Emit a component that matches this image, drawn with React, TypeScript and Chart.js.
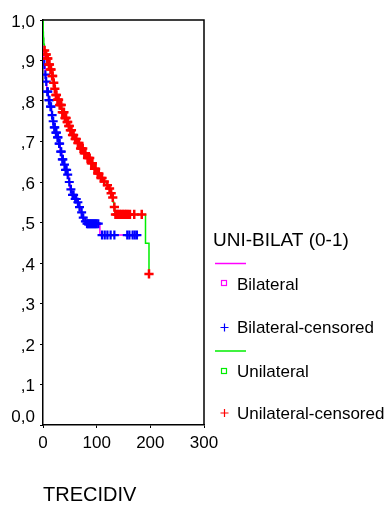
import React, { useEffect, useRef } from 'react';
import { Chart, registerables } from 'chart.js';
Chart.register(...registerables);

// ---- Data ----
const uniTimes = [0, 0.3, 0.7, 1.5, 2.5, 4, 7, 10, 13, 16, 19, 21, 23, 26, 30, 35, 40, 44, 47, 50, 54, 58, 63, 69, 75, 81, 88, 94, 100, 106, 112, 118, 122, 126, 129, 131, 132, 134, 191, 197.5];
const uniSurv = [1.0, 0.97, 0.955, 0.94, 0.925, 0.915, 0.905, 0.89, 0.878, 0.862, 0.845, 0.83, 0.815, 0.803, 0.79, 0.772, 0.758, 0.748, 0.738, 0.728, 0.716, 0.706, 0.696, 0.683, 0.671, 0.659, 0.646, 0.633, 0.621, 0.61, 0.601, 0.592, 0.584, 0.572, 0.562, 0.55, 0.538, 0.52, 0.449, 0.373];

const uniCensTimes = [3, 5, 6, 8, 9, 11, 12, 14, 15, 17, 18, 20, 22, 24, 25, 27, 28, 29, 31, 33, 34, 36, 38, 39, 41, 42, 43, 45, 46, 48, 49, 51, 53, 55, 57, 60, 62, 65, 67, 70, 72, 74, 77, 79, 83, 85, 87, 90, 92, 96, 98, 102, 104, 108, 110, 114, 120, 124, 127, 130, 133, 135, 138, 140, 143, 146, 149, 152, 155, 158, 162, 170, 184, 197.5];
const uniCensSurv = [0.925, 0.915, 0.915, 0.905, 0.905, 0.89, 0.89, 0.878, 0.878, 0.862, 0.862, 0.845, 0.83, 0.815, 0.815, 0.803, 0.803, 0.803, 0.79, 0.79, 0.79, 0.772, 0.772, 0.772, 0.758, 0.758, 0.758, 0.748, 0.748, 0.738, 0.738, 0.728, 0.728, 0.716, 0.716, 0.706, 0.706, 0.696, 0.696, 0.683, 0.683, 0.683, 0.671, 0.671, 0.659, 0.659, 0.659, 0.646, 0.646, 0.633, 0.633, 0.621, 0.621, 0.61, 0.61, 0.601, 0.592, 0.584, 0.572, 0.562, 0.538, 0.52, 0.52, 0.52, 0.52, 0.52, 0.52, 0.52, 0.52, 0.52, 0.52, 0.52, 0.52, 0.373];

const biTimes = [0, 0.3, 0.8, 1.3, 2, 4, 5.5, 7, 10, 13, 16, 18, 20, 23, 26, 29, 32, 35, 38, 41, 45, 48, 50, 54, 58, 63, 67, 70, 73, 77, 81, 106, 177];
const biSurv = [1.0, 0.96, 0.93, 0.905, 0.89, 0.865, 0.848, 0.823, 0.802, 0.786, 0.765, 0.75, 0.735, 0.722, 0.71, 0.695, 0.675, 0.656, 0.643, 0.63, 0.618, 0.6, 0.582, 0.568, 0.558, 0.55, 0.538, 0.525, 0.512, 0.503, 0.497, 0.469, 0.469];

const biCensTimes = [2.5, 4.5, 6, 8, 9, 11, 12, 14, 15, 17, 19, 21, 22, 24, 25, 27, 28, 30, 31, 33, 34, 36, 37, 40, 42, 44, 46, 49, 52, 55, 57, 60, 62, 65, 68, 72, 75, 79, 82, 84, 86, 88, 90, 92, 94, 96, 98, 100, 103, 110, 115, 120, 126, 133, 157, 161, 167, 171, 175];
const biCensSurv = [0.89, 0.865, 0.848, 0.823, 0.823, 0.802, 0.802, 0.786, 0.786, 0.765, 0.75, 0.735, 0.735, 0.722, 0.722, 0.71, 0.71, 0.695, 0.695, 0.675, 0.675, 0.656, 0.656, 0.643, 0.63, 0.63, 0.618, 0.6, 0.582, 0.568, 0.568, 0.558, 0.558, 0.55, 0.538, 0.525, 0.512, 0.503, 0.497, 0.497, 0.497, 0.497, 0.497, 0.497, 0.497, 0.497, 0.497, 0.497, 0.497, 0.469, 0.469, 0.469, 0.469, 0.469, 0.469, 0.469, 0.469, 0.469, 0.469];

const xTickValues = [0, 100, 200, 300];
const yZeroLabel = '0,0';
const xTitle = 'TRECIDIV';
const legendTitle = 'UNI-BILAT (0-1)';
const legendLabels = ['Bilateral', 'Bilateral-censored', 'Unilateral', 'Unilateral-censored'];

const FONT = "'Liberation Sans', Arial, sans-serif";
const MAGENTA = '#ff00ff';
const BLUE = '#0000ff';
const GREEN = '#00ee00';
const RED = '#ff0000';

const toPts = (xs: number[], ys: number[]) => xs.map((x, i) => ({ x, y: ys[i] }));

const decorPlugin = {
  id: 'decor',
  afterDraw(chart: any) {
    const { ctx, chartArea, scales } = chart;
    ctx.save();
    // frame top & right
    ctx.strokeStyle = '#000';
    ctx.lineWidth = 1.5;
    ctx.beginPath();
    ctx.moveTo(chartArea.left, chartArea.top);
    ctx.lineTo(chartArea.right, chartArea.top);
    ctx.lineTo(chartArea.right, chartArea.bottom);
    ctx.stroke();

    // 0,0 label (raised above the axis)
    ctx.fillStyle = '#000';
    ctx.font = `17px ${FONT}`;
    ctx.textAlign = 'right';
    ctx.textBaseline = 'middle';
    ctx.fillText(yZeroLabel, chartArea.left - 8, scales.y.getPixelForValue(0) - 8);

    // legend
    const lx = chartArea.right + 9;
    ctx.textAlign = 'left';
    ctx.font = `19px ${FONT}`;
    ctx.fillText(legendTitle, lx, 241);

    const lineSeg = (y: number, color: string) => {
      ctx.strokeStyle = color;
      ctx.lineWidth = 1.5;
      ctx.beginPath();
      ctx.moveTo(lx + 2, y);
      ctx.lineTo(lx + 33, y);
      ctx.stroke();
    };
    const square = (y: number, color: string) => {
      ctx.strokeStyle = color;
      ctx.lineWidth = 1.2;
      ctx.strokeRect(lx + 8.5, y - 2.5, 5, 5);
    };
    const cross = (y: number, color: string) => {
      ctx.strokeStyle = color;
      ctx.lineWidth = 1.2;
      ctx.beginPath();
      ctx.moveTo(lx + 7.5, y);
      ctx.lineTo(lx + 15.5, y);
      ctx.moveTo(lx + 11.5, y - 4);
      ctx.lineTo(lx + 11.5, y + 4);
      ctx.stroke();
    };
    lineSeg(263.5, MAGENTA);
    square(283, MAGENTA);
    cross(327.5, BLUE);
    lineSeg(351, GREEN);
    square(371, GREEN);
    cross(413, RED);

    ctx.fillStyle = '#000';
    ctx.font = `17px ${FONT}`;
    ctx.fillText(legendLabels[0], lx + 24, 285);
    ctx.fillText(legendLabels[1], lx + 24, 328.5);
    ctx.fillText(legendLabels[2], lx + 24, 372.5);
    ctx.fillText(legendLabels[3], lx + 24, 414);
    ctx.restore();
  },
};

export default function App() {
  const ref = useRef<HTMLCanvasElement>(null);
  useEffect(() => {
    document.body.style.margin = '0';
    const canvas = ref.current!;
    const chart = new Chart(canvas, {
      type: 'line',
      data: {
        datasets: [
          {
            label: 'Bilateral',
            data: toPts(biTimes, biSurv),
            borderColor: MAGENTA,
            borderWidth: 1.5,
            stepped: 'before',
            pointRadius: 0,
            fill: false,
            order: 4,
          },
          {
            label: 'Unilateral',
            data: toPts(uniTimes, uniSurv),
            borderColor: GREEN,
            borderWidth: 1.5,
            stepped: 'before',
            pointRadius: 0,
            fill: false,
            order: 3,
          },
          {
            type: 'scatter',
            label: 'Bilateral-censored',
            data: toPts(biCensTimes, biCensSurv),
            borderColor: BLUE,
            backgroundColor: BLUE,
            pointStyle: 'cross',
            pointRadius: 4.5,
            borderWidth: 2.2,
            showLine: false,
            order: 2,
          },
          {
            type: 'scatter',
            label: 'Unilateral-censored',
            data: toPts(uniCensTimes, uniCensSurv),
            borderColor: RED,
            backgroundColor: RED,
            pointStyle: 'cross',
            pointRadius: 4.6,
            borderWidth: 2.5,
            showLine: false,
            order: 1,
          },
        ],
      },
      options: {
        animation: false,
        responsive: false,
        devicePixelRatio: 1,
        layout: { padding: { top: 20, right: 186, left: 0, bottom: 0 } },
        plugins: { legend: { display: false }, tooltip: { enabled: false } },
        scales: {
          x: {
            type: 'linear',
            min: 0,
            max: 300,
            afterFit: (s: any) => { s.height = 81; },
            afterBuildTicks: (s: any) => { s.ticks = xTickValues.map((v) => ({ value: v })); },
            ticks: { color: '#000', font: { family: FONT, size: 17 }, padding: 5, maxRotation: 0 },
            grid: { drawOnChartArea: false, drawTicks: true, tickLength: 3, color: '#000', lineWidth: 1 },
            border: { display: true, color: '#000', width: 1.5 },
            title: {
              display: true,
              text: xTitle,
              align: 'start',
              color: '#000',
              font: { family: FONT, size: 20, lineHeight: 1 },
              padding: { top: 0, bottom: 1 },
            },
          },
          y: {
            type: 'linear',
            min: 0,
            max: 1,
            afterFit: (s: any) => { s.width = 43; },
            ticks: {
              stepSize: 0.1,
              color: '#000',
              font: { family: FONT, size: 17 },
              padding: 5,
              labelOffset: 2,
              callback: (v: any) => {
                const n = Math.round(Number(v) * 10);
                if (n === 10) return '1,0';
                if (n === 0) return '';
                return ',' + n;
              },
            },
            grid: { drawOnChartArea: false, drawTicks: true, tickLength: 3, color: '#000', lineWidth: 1 },
            border: { display: true, color: '#000', width: 1.5 },
          },
        },
      },
      plugins: [decorPlugin],
    } as any);
    return () => chart.destroy();
  }, []);
  return (
    <div style={{ width: 390, height: 506, background: '#fff' }}>
      <canvas ref={ref} width={390} height={506} />
    </div>
  );
}
